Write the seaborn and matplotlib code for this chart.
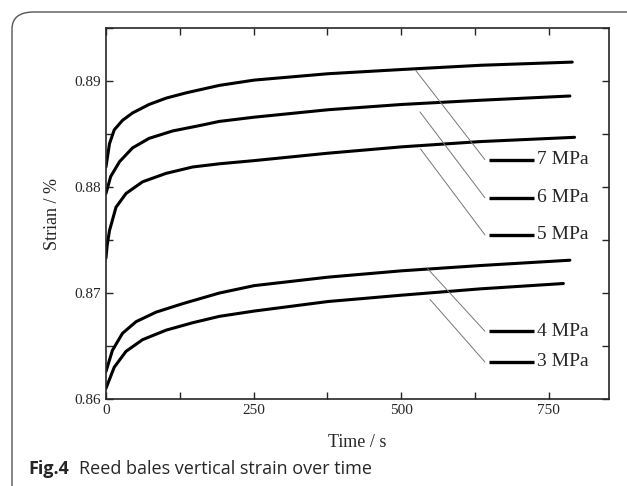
# Reed bales vertical strain over time
import numpy as np
import pandas as pd
import seaborn as sns
import matplotlib.pyplot as plt
from matplotlib.patches import FancyBboxPatch
from matplotlib.ticker import MultipleLocator

# 读图得到的数据
time_7 = [0, 6, 14, 28, 45, 73, 102, 136, 192, 251, 376, 501, 635, 790]
strain_7 = [0.8819, 0.8841, 0.8854, 0.8863, 0.8870, 0.8878, 0.8884, 0.8889, 0.8896,
            0.8901, 0.8907, 0.8911, 0.8915, 0.8918]
time_6 = [0, 8, 23, 45, 73, 113, 158, 192, 251, 376, 501, 635, 786]
strain_6 = [0.8794, 0.8810, 0.8824, 0.8837, 0.8846, 0.8853, 0.8858, 0.8862, 0.8866,
            0.8873, 0.8878, 0.8882, 0.8886]
time_5 = [0, 2, 6, 17, 34, 62, 102, 147, 192, 251, 376, 501, 635, 794]
strain_5 = [0.8733, 0.8745, 0.8759, 0.8781, 0.8794, 0.8805, 0.8813, 0.8819, 0.8822,
            0.8825, 0.8832, 0.8838, 0.8843, 0.8847]
time_4 = [0, 11, 28, 51, 85, 130, 192, 251, 376, 501, 635, 786]
strain_4 = [0.8626, 0.8646, 0.8662, 0.8673, 0.8682, 0.8690, 0.8700, 0.8707, 0.8715,
            0.8721, 0.8726, 0.8731]
time_3 = [0, 14, 34, 62, 102, 147, 192, 251, 376, 501, 635, 775]
strain_3 = [0.8610, 0.8630, 0.8645, 0.8656, 0.8665, 0.8672, 0.8678, 0.8683, 0.8692,
            0.8698, 0.8704, 0.8709]
series = ['7 MPa', '6 MPa', '5 MPa', '4 MPa', '3 MPa']
label_y = [0.8826, 0.8790, 0.8755, 0.8664, 0.8635]
leader_from = [(525, 0.8910), (532, 0.8871), (533, 0.8836), (545, 0.8723), (549, 0.8694)]
x_ticks = [0, 250, 500, 750]
y_ticks = [0.86, 0.87, 0.88, 0.89]

rows = []
for name, t, vals in zip(series, [time_7, time_6, time_5, time_4, time_3],
                         [strain_7, strain_6, strain_5, strain_4, strain_3]):
    for ti, v in zip(t, vals):
        rows.append({'Time': ti, 'Strain': v, 'Load': name})
df = pd.DataFrame(rows)

sns.set_style('ticks')
plt.rcParams['font.family'] = ['Liberation Serif', 'DejaVu Serif']

fig = plt.figure(figsize=(6.27, 4.86), dpi=100)
ax = fig.add_axes([0.169, 0.179, 0.802, 0.763])

sns.lineplot(data=df, x='Time', y='Strain', units='Load', estimator=None, sort=True,
             color='black', linewidth=2.2, ax=ax, legend=False)

# 标注
for name, ly, (fx, fy) in zip(series, label_y, leader_from):
    ax.plot([fx, 642], [fy, ly], color='#777777', linewidth=0.7)
    ax.plot([649, 726], [ly, ly], color='black', linewidth=2.4, solid_capstyle='butt')
    ax.text(731, ly, name, fontsize=14, va='center', ha='left')

ax.set_xlim(0, 852)
ax.set_ylim(0.86, 0.895)
ax.set_xticks(x_ticks)
ax.set_xticklabels([str(v) for v in x_ticks])
ax.xaxis.set_minor_locator(MultipleLocator(125))
ax.set_yticks(y_ticks)
ax.set_yticklabels(['%.2f' % v for v in y_ticks])
ax.yaxis.set_minor_locator(MultipleLocator(0.005))
ax.tick_params(which='both', direction='in', top=True, right=True, labelsize=11)
ax.tick_params(which='both', length=5, width=1)
ax.set_xlabel('Time / s', fontsize=13, labelpad=12)
ax.set_ylabel('Strian / %', fontsize=13, labelpad=10)
for pos in ['top', 'bottom', 'right', 'left']:
    ax.spines[pos].set_linewidth(1.2)

# 外框和图题
frame = FancyBboxPatch((12 / 627, -0.2), 1.2, 1.2 - 12 / 486,
                       boxstyle='round,pad=0,rounding_size=0.035',
                       transform=fig.transFigure, fill=False,
                       edgecolor='#555555', linewidth=1.0, clip_on=False)
fig.patches.append(frame)
fig.text(28 / 627, 1 - 469 / 486, 'Fig.4', fontsize=13, fontweight='bold',
         family=['Open Sans', 'DejaVu Sans'], va='center', ha='left')
fig.text(79 / 627, 1 - 469 / 486, 'Reed bales vertical strain over time', fontsize=13,
         family=['Open Sans', 'DejaVu Sans'], va='center', ha='left')

fig.savefig('out.png', dpi=100)
